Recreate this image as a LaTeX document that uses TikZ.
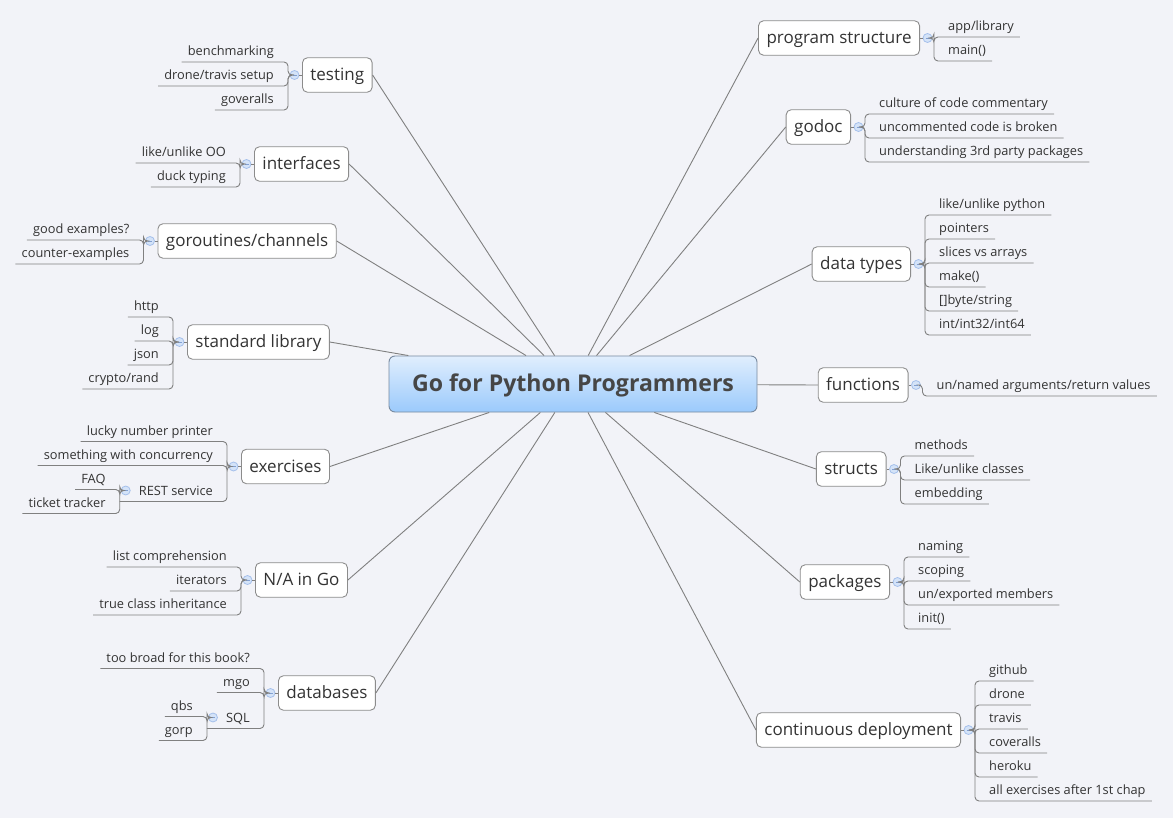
\documentclass[tikz,border=0pt]{standalone}
\usepackage{fontspec}
\setmainfont{Open Sans}
\usetikzlibrary{calc}
\definecolor{bg}{RGB}{242,243,248}
\definecolor{linec}{RGB}{128,128,128}
\definecolor{boxc}{RGB}{140,140,140}
\definecolor{txt}{RGB}{51,51,51}
\definecolor{ctxt}{RGB}{70,70,70}
\definecolor{ctop}{RGB}{224,238,253}
\definecolor{cbot}{RGB}{155,202,252}
\definecolor{cbord}{RGB}{120,138,160}
\definecolor{colfill}{RGB}{212,227,248}
\definecolor{coldraw}{RGB}{165,192,235}
\definecolor{colminus}{RGB}{130,160,210}
\tikzset{
 conn/.style={draw=linec, line width=0.9pt, rounded corners=4pt},
 topic/.style={draw=boxc, fill=white, rounded corners=5pt, line width=0.9pt, inner xsep=8pt, inner ysep=0pt, minimum height=34.5pt, text height=15.5pt, text depth=4pt, font=\fontsize{17}{20}\selectfont, text=txt},
 leaf/.style={inner sep=0pt, text height=9.5pt, text depth=6pt, font=\fontsize{12.8}{15}\selectfont, text=txt},
 collapse/.style={circle, draw=coldraw, fill=colfill, minimum size=9pt, inner sep=0pt, line width=0.8pt,
   path picture={\draw[colminus, line width=0.7pt] ([xshift=-2pt]path picture bounding box.center) -- ([xshift=2pt]path picture bounding box.center);}},
 central/.style={draw=cbord, line width=0.9pt, rounded corners=6pt, top color=ctop, bottom color=cbot, minimum width=368pt, minimum height=56pt, inner ysep=0pt, text height=20.5pt, text depth=5pt, font=\bfseries\fontsize{23.1}{27}\selectfont, text=ctxt}
}
% #1 ext, #2 parent circle, #3 py, #4 trunk x, #5 underline y, #6 name, #7 text
\newcommand\LLeaf[7][6]{%
  \node[leaf, anchor=south east] (#6) at (#4-14,#5) {#7};
  \draw[conn] (#2) -- (#4,#3) |- ([xshift=-#1pt]#6.south west);
}
\newcommand\RLeaf[7][6]{%
  \node[leaf, anchor=south west] (#6) at (#4+14,#5) {#7};
  \draw[conn] (#2) -- (#4,#3) |- ([xshift=#1pt]#6.south east);
}
% #1 name, #2 outer x, #3 py, #4 text
\newcommand\LTopic[4]{%
  \node[topic, anchor=west] (#1) at (#2,#3) {#4};
  \node[collapse] (#1c) at (#2-7.5,#3) {};
  \draw[conn] (#1c) -- (#1);
  \draw[conn] (c) -- (#1.east);
}
\newcommand\RTopic[4]{%
  \node[topic, anchor=east] (#1) at (#2,#3) {#4};
  \node[collapse] (#1c) at (#2+7.5,#3) {};
  \draw[conn] (#1c) -- (#1);
  \draw[conn] (c) -- (#1.west);
}
% #1 name, #2 outer x, #3 py, #4 text, #5 n, #6 leaves
\newcommand\LGroup[6]{%
  \LTopic{#1}{#2}{#3}{#4}
  \foreach \lt [count=\li from 0] in {#6} {
    \pgfmathsetmacro\uy{#3+11+24*(\li-(#5-1)/2)}
    \LLeaf{#1c}{#3}{#2-14}{\uy}{#1-\li}{\lt}
  }
}
\newcommand\RGroup[6]{%
  \RTopic{#1}{#2}{#3}{#4}
  \foreach \lt [count=\li from 0] in {#6} {
    \pgfmathsetmacro\uy{#3+11+24*(\li-(#5-1)/2)}
    \RLeaf{#1c}{#3}{#2+14}{\uy}{#1-\li}{\lt}
  }
}
\begin{document}
\begin{tikzpicture}[x=1pt,y=-1pt]
\useasboundingbox (0,0) rectangle (1173,818);
\fill[bg] (0,0) rectangle (1173,818);

\node[central] (c) at (573,384) {Go for Python Programmers};

% ---------- left side ----------
\LGroup{testing}{302}{75}{testing}{3}{{benchmarking},{drone/travis setup},{goveralls}}
\LGroup{interfaces}{254}{164}{interfaces}{2}{{like/unlike OO},{duck typing}}
\LGroup{goroutines}{157.5}{241}{goroutines/channels}{2}{{good examples?},{counter-examples}}
\LGroup{stdlib}{187}{342}{standard library}{4}{{http},{log},{json},{crypto/rand}}

\LTopic{exercises}{241}{466.5}{exercises}
\LLeaf{exercisesc}{466.5}{227}{441.5}{ex-0}{lucky number printer}
\LLeaf{exercisesc}{466.5}{227}{465.5}{ex-1}{something with concurrency}
\LLeaf[19]{exercisesc}{466.5}{227}{501.5}{rest}{REST service}
\node[collapse] (restc) at ([xshift=-13pt,yshift=11pt]rest.south west) {};
\coordinate (restt) at ([xshift=-19pt]rest.south west);
\coordinate (yfaq) at (0,489.5);
\coordinate (ytt) at (0,513.5);
\node[leaf, anchor=south east] (faq) at ([xshift=-14pt]restt |- yfaq) {FAQ};
\node[leaf, anchor=south east] (tt) at ([xshift=-14pt]restt |- ytt) {ticket tracker};
\draw[conn] (restc) -- (restc -| restt) |- ([xshift=-6pt]faq.south west);
\draw[conn] (restc) -- (restc -| restt) |- ([xshift=-6pt]tt.south west);

\LGroup{na}{255}{580}{N/A in Go}{3}{{list comprehension},{iterators},{true class inheritance}}

\LTopic{databases}{278}{693}{databases}
\LLeaf{databasesc}{693}{264}{668.5}{db-0}{too broad for this book?}
\LLeaf{databasesc}{693}{264}{692.5}{db-1}{mgo}
\LLeaf[19]{databasesc}{693}{264}{728.5}{sql}{SQL}
\node[collapse] (sqlc) at ([xshift=-13pt,yshift=11pt]sql.south west) {};
\coordinate (sqlt) at ([xshift=-19pt]sql.south west);
\coordinate (yqbs) at (0,716.5);
\coordinate (ygorp) at (0,740.5);
\node[leaf, anchor=south east] (qbs) at ([xshift=-14pt]sqlt |- yqbs) {qbs};
\node[leaf, anchor=south east] (gorp) at ([xshift=-14pt]sqlt |- ygorp) {gorp};
\draw[conn] (sqlc) -- (sqlc -| sqlt) |- ([xshift=-6pt]qbs.south west);
\draw[conn] (sqlc) -- (sqlc -| sqlt) |- ([xshift=-6pt]gorp.south west);

% ---------- right side ----------
\RGroup{progstruct}{920}{38}{program structure}{2}{{app/library},{main()}}
\RGroup{godoc}{851}{127}{godoc}{3}{{culture of code commentary},{uncommented code is broken},{understanding 3rd party packages}}
\RGroup{datatypes}{911}{264}{data types}{6}{{like/unlike python},{pointers},{slices vs arrays},{make()},{[]byte/string},{int/int32/int64}}
\RGroup{functions}{908.5}{385}{functions}{1}{{un/named arguments/return values}}
\RGroup{structs}{886.5}{469}{structs}{3}{{methods},{Like/unlike classes},{embedding}}
\RGroup{packages}{890}{582}{packages}{4}{{naming},{scoping},{un/exported members},{init()}}
\RGroup{cd}{961}{730}{continuous deployment}{6}{{github},{drone},{travis},{coveralls},{heroku},{all exercises after 1st chap}}
\end{tikzpicture}
\end{document}
